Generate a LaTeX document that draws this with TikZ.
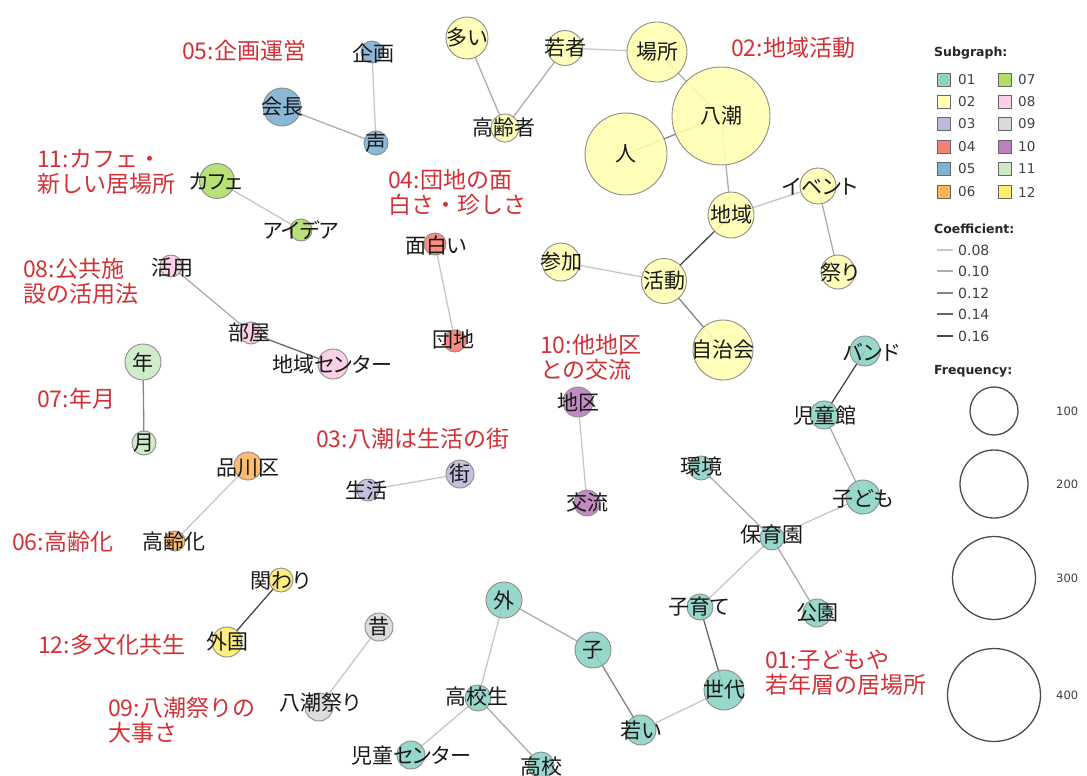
\documentclass[tikz,border=0pt]{standalone}
\usepackage{fontspec}
\newfontfamily\jpn[RawFeature=+palt]{Noto Sans CJK JP}
\newfontfamily\jpr{Noto Sans CJK JP}
\newfontfamily\legf{DejaVu Sans}
\definecolor{c01}{HTML}{8DD3C7}
\definecolor{c02}{HTML}{FFFFB3}
\definecolor{c03}{HTML}{BEBADA}
\definecolor{c04}{HTML}{FB8072}
\definecolor{c05}{HTML}{80B1D3}
\definecolor{c06}{HTML}{FDB462}
\definecolor{c07}{HTML}{B3DE69}
\definecolor{c08}{HTML}{FCCDE5}
\definecolor{c09}{HTML}{D9D9D9}
\definecolor{c10}{HTML}{BC80BD}
\definecolor{c11}{HTML}{CCEBC5}
\definecolor{c12}{HTML}{FFED6F}
\definecolor{redlab}{RGB}{208,50,55}
\pgfdeclarelayer{back}
\pgfdeclarelayer{bg}
\pgfsetlayers{back,bg,main}
\tikzset{
  wn/.style={circle, draw=black!45, line width=0.9pt, fill opacity=0.9, inner sep=0pt, minimum size=#1pt},
  lbl/.style={font=\jpn\fontsize{21}{24}\selectfont, inner sep=0pt, text=black!90},
  grp/.style={font=\jpr\fontsize{23}{25}\selectfont, text=redlab, inner sep=0pt, align=left, anchor=west},
  e08/.style={draw=black!22, line width=1.3pt},
  e10/.style={draw=black!32, line width=1.3pt},
  e12/.style={draw=black!48, line width=1.3pt},
  e14/.style={draw=black!60, line width=1.3pt},
  e16/.style={draw=black!72, line width=1.3pt},
  legb/.style={font=\legf\bfseries\fontsize{12.5}{14}\selectfont, text=black!85, inner sep=0pt, anchor=west},
  legt/.style={font=\legf\fontsize{13.5}{15}\selectfont, text=black!75, inner sep=0pt, anchor=west},
  legc/.style={font=\legf\fontsize{14}{16}\selectfont, text=black!75, inner sep=0pt, anchor=west},
  legs/.style={font=\legf\fontsize{11.5}{13}\selectfont, text=black!75, inner sep=0pt, anchor=west},
  sqbox/.style={rectangle, draw=black!60, line width=0.9pt, minimum size=13pt, inner sep=0pt},
  fcirc/.style={circle, draw=black!70, line width=1.3pt, inner sep=0pt, minimum size=#1pt}
}
\begin{document}
\begin{tikzpicture}[x=1pt,y=-1pt]
\useasboundingbox (0,0) rectangle (1087,776);
\begin{pgfonlayer}{back}
\fill[white] (0,0) rectangle (1087,776);
\end{pgfonlayer}

% ---------- nodes: 05 ----------
\node[wn=22, fill=c05] (kikaku) at (372,52) {};
\node[lbl] (t-kikaku) at (373,53) {企画};
\node[wn=38, fill=c05] (kaicho) at (282,107) {};
\node[lbl] (t-kaicho) at (282,107) {会長};
\node[wn=24, fill=c05] (koe) at (376,143) {};
\node[lbl] (t-koe) at (376,143) {声};
% ---------- cafe (lime) ----------
\node[wn=35, fill=c07] (cafe) at (217,181) {};
\node[lbl] (t-cafe) at (216,182) {カフェ};
\node[wn=22, fill=c07] (idea) at (301,230) {};
\node[lbl] (t-idea) at (301,230) {アイデア};
% ---------- 02 ----------
\node[wn=42, fill=c02] (ooi) at (467,38) {};
\node[lbl] (t-ooi) at (467,38) {多い};
\node[wn=35, fill=c02] (wakamono) at (565,48) {};
\node[lbl] (t-wakamono) at (565,48) {若者};
\node[wn=60, fill=c02] (basho) at (657,52) {};
\node[lbl] (t-basho) at (657,52) {場所};
\node[wn=28, fill=c02] (koreisha) at (505,128) {};
\node[lbl] (t-koreisha) at (504,128) {高齢者};
\node[wn=98, fill=c02] (yashio) at (721,116) {};
\node[lbl] (t-yashio) at (721,116) {八潮};
\node[wn=82, fill=c02] (hito) at (626,154) {};
\node[lbl] (t-hito) at (626,154) {人};
\node[wn=46, fill=c02] (chiiki) at (731,215) {};
\node[lbl] (t-chiiki) at (731,215) {地域};
\node[wn=36, fill=c02] (event) at (818,186) {};
\node[lbl] (t-event) at (820,187) {イベント};
\node[wn=34, fill=c02] (matsuri) at (838,272) {};
\node[lbl] (t-matsuri) at (840,273) {祭り};
\node[wn=38, fill=c02] (sanka) at (561,262) {};
\node[lbl] (t-sanka) at (561,262) {参加};
\node[wn=45, fill=c02] (katsudo) at (664,281) {};
\node[lbl] (t-katsudo) at (664,281) {活動};
\node[wn=60, fill=c02] (jichikai) at (723,350) {};
\node[lbl] (t-jichikai) at (723,350) {自治会};
% ---------- 04 ----------
\node[wn=22, fill=c04] (omoshiroi) at (435,244) {};
\node[lbl] (t-omoshiroi) at (436,245) {面白い};
\node[wn=22, fill=c04] (danchi) at (455,341) {};
\node[lbl] (t-danchi) at (453,340) {団地};
% ---------- 08 ----------
\node[wn=22, fill=c08] (katsuyo) at (171,266) {};
\node[lbl] (t-katsuyo) at (172,268) {活用};
\node[wn=22, fill=c08] (heya) at (251,333) {};
\node[lbl] (t-heya) at (249,333) {部屋};
\node[wn=30, fill=c08] (chcenter) at (333,364) {};
\node[lbl] (t-chcenter) at (332,365) {地域センター};
% ---------- 年月 (light green) ----------
\node[wn=36, fill=c11] (toshi) at (143,362) {};
\node[lbl] (t-toshi) at (143,362) {年};
\node[wn=24, fill=c11] (tsuki) at (144,443) {};
\node[lbl] (t-tsuki) at (144,443) {月};
% ---------- 06 ----------
\node[wn=28, fill=c06] (shinagawa) at (248,466) {};
\node[lbl] (t-shinagawa) at (248,468) {品川区};
\node[wn=20, fill=c06] (koreika) at (175,541) {};
\node[lbl] (t-koreika) at (174,542) {高齢化};
% ---------- 03 ----------
\node[wn=22, fill=c03] (seikatsu) at (368,490) {};
\node[lbl] (t-seikatsu) at (366,491) {生活};
\node[wn=28, fill=c03] (machi) at (460,474) {};
\node[lbl] (t-machi) at (460,474) {街};
% ---------- 10 ----------
\node[wn=30, fill=c10] (chiku) at (578,402) {};
\node[lbl] (t-chiku) at (578,403) {地区};
\node[wn=26, fill=c10] (koryu) at (587,503) {};
\node[lbl] (t-koryu) at (587,503) {交流};
% ---------- 12 ----------
\node[wn=24, fill=c12] (kakawari) at (281,580) {};
\node[lbl] (t-kakawari) at (280,581) {関わり};
\node[wn=30, fill=c12] (gaikoku) at (227,642) {};
\node[lbl] (t-gaikoku) at (227,642) {外国};
% ---------- 09 ----------
\node[wn=28, fill=c09] (mukashi) at (379,627) {};
\node[lbl] (t-mukashi) at (379,627) {昔};
\node[wn=28, fill=c09] (ymatsuri) at (319,707) {};
\node[lbl] (t-ymatsuri) at (320,703) {八潮祭り};
% ---------- 01 ----------
\node[wn=24, fill=c01] (kankyo) at (701,468) {};
\node[lbl] (t-kankyo) at (701,467) {環境};
\node[wn=30, fill=c01] (band) at (865,351) {};
\node[lbl] (t-band) at (871,352) {バンド};
\node[wn=28, fill=c01] (jidokan) at (824,415) {};
\node[lbl] (t-jidokan) at (825,416) {児童館};
\node[wn=34, fill=c01] (kodomo) at (863,497) {};
\node[lbl] (t-kodomo) at (863,499) {子ども};
\node[wn=24, fill=c01] (hoikuen) at (772,538) {};
\node[lbl] (t-hoikuen) at (772,535) {保育園};
\node[wn=26, fill=c01] (kosodate) at (700,607) {};
\node[lbl] (t-kosodate) at (699,607) {子育て};
\node[wn=28, fill=c01] (koen) at (817,613) {};
\node[lbl] (t-koen) at (817,613) {公園};
\node[wn=40, fill=c01] (sedai) at (724,690) {};
\node[lbl] (t-sedai) at (724,690) {世代};
\node[wn=36, fill=c01] (soto) at (504,600) {};
\node[lbl] (t-soto) at (504,600) {外};
\node[wn=36, fill=c01] (ko) at (593,650) {};
\node[lbl] (t-ko) at (593,650) {子};
\node[wn=30, fill=c01] (wakai) at (641,730) {};
\node[lbl] (t-wakai) at (641,730) {若い};
\node[wn=26, fill=c01] (koukousei) at (478,698) {};
\node[lbl] (t-koukousei) at (477,697) {高校生};
\node[wn=28, fill=c01] (jidocenter) at (411,755) {};
\node[lbl] (t-jidocenter) at (411,756) {児童センター};
\node[wn=26, fill=c01] (koukou) at (541,765) {};
\node[lbl] (t-koukou) at (541,767) {高校};

% ---------- edges ----------
\begin{pgfonlayer}{bg}
\draw[e08] (kikaku.center) -- (koe.center);
\draw[e10] (kaicho.center) -- (koe.center);
\draw[e08] (cafe.center) -- (idea.center);
\draw[e10] (ooi.center) -- (koreisha.center);
\draw[e10] (wakamono.center) -- (koreisha.center);
\draw[e08] (wakamono.center) -- (basho.center);
\draw[e10] (basho.center) -- (yashio.center);
\draw[e12] (yashio.center) -- (hito.center);
\draw[e10] (yashio.center) -- (chiiki.center);
\draw[e16] (chiiki.center) -- (katsudo.center);
\draw[e08] (chiiki.center) -- (event.center);
\draw[e10] (event.center) -- (matsuri.center);
\draw[e08] (sanka.center) -- (katsudo.center);
\draw[e12] (katsudo.center) -- (jichikai.center);
\draw[e08] (omoshiroi.center) -- (danchi.center);
\draw[e10] (katsuyo.center) -- (heya.center);
\draw[e14] (heya.center) -- (chcenter.center);
\draw[e12] (toshi.center) -- (tsuki.center);
\draw[e08] (shinagawa.center) -- (koreika.center);
\draw[e08] (seikatsu.center) -- (machi.center);
\draw[e08] (chiku.center) -- (koryu.center);
\draw[e16] (kakawari.center) -- (gaikoku.center);
\draw[e08] (mukashi.center) -- (ymatsuri.center);
\draw[e16] (band.center) -- (jidokan.center);
\draw[e10] (jidokan.center) -- (kodomo.center);
\draw[e08] (kodomo.center) -- (hoikuen.center);
\draw[e10] (kankyo.center) -- (hoikuen.center);
\draw[e08] (hoikuen.center) -- (kosodate.center);
\draw[e10] (hoikuen.center) -- (koen.center);
\draw[e14] (kosodate.center) -- (sedai.center);
\draw[e08] (sedai.center) -- (wakai.center);
\draw[e12] (wakai.center) -- (ko.center);
\draw[e10] (ko.center) -- (soto.center);
\draw[e08] (soto.center) -- (koukousei.center);
\draw[e08] (koukousei.center) -- (jidocenter.center);
\draw[e10] (koukousei.center) -- (koukou.center);
\end{pgfonlayer}

% ---------- group labels ----------
\node[grp] (g05) at (182,51) {05:企画運営};
\node[grp] (g02) at (731,48) {02:地域活動};
\node[grp] (g11) at (37,172) {11:カフェ・\\新しい居場所};
\node[grp] (g04) at (388,192) {04:団地の面\\白さ・珍しさ};
\node[grp] (g08) at (23,281) {08:公共施\\設の活用法};
\node[grp] (g07) at (37,399) {07:年月};
\node[grp] (g10) at (540,357) {10:他地区\\との交流};
\node[grp] (g03) at (316,439) {03:八潮は生活の街};
\node[grp] (g06) at (12,542) {06:高齢化};
\node[grp] (g12) at (38,645) {12:多文化共生};
\node[grp] (g09) at (108,720) {09:八潮祭りの\\大事さ};
\node[grp] (g01) at (765,673) {01:子どもや\\若年層の居場所};

% ---------- legend ----------
\node[legb] (lg-sub) at (934,53) {Subgraph:};
\foreach \nm/\yy in {01/80,02/102,03/124,04/147,05/169,06/192}{
  \node[sqbox, fill=c\nm] (sq\nm) at (944,\yy) {};
  \node[legt] (sl\nm) at (958,\yy) {\nm};
}
\foreach \nm/\yy in {07/80,08/102,09/124,10/147,11/169,12/192}{
  \node[sqbox, fill=c\nm] (sq\nm) at (1005,\yy) {};
  \node[legt] (sl\nm) at (1018,\yy) {\nm};
}
\node[legb] (lg-coef) at (934,229) {Coefficient:};
\foreach \st/\tx/\yy in {e08/0.08/250,e10/0.10/271,e12/0.12/293,e14/0.14/314,e16/0.16/336}{
  \coordinate (la-\st) at (937,\yy);
  \coordinate (lb-\st) at (953,\yy);
  \draw[\st] (la-\st) -- (lb-\st);
  \node[legc] (lt-\st) at (958,\yy) {\tx};
}
\node[legb] (lg-freq) at (934,371) {Frequency:};
\node[fcirc=48] (f100) at (994,411) {};
\node[fcirc=68] (f200) at (994,484) {};
\node[fcirc=83] (f300) at (994,578) {};
\node[fcirc=93] (f400) at (994,695) {};
\node[legs] (ft100) at (1056,411) {100};
\node[legs] (ft200) at (1056,484) {200};
\node[legs] (ft300) at (1056,578) {300};
\node[legs] (ft400) at (1056,695) {400};
\end{tikzpicture}
\end{document}
